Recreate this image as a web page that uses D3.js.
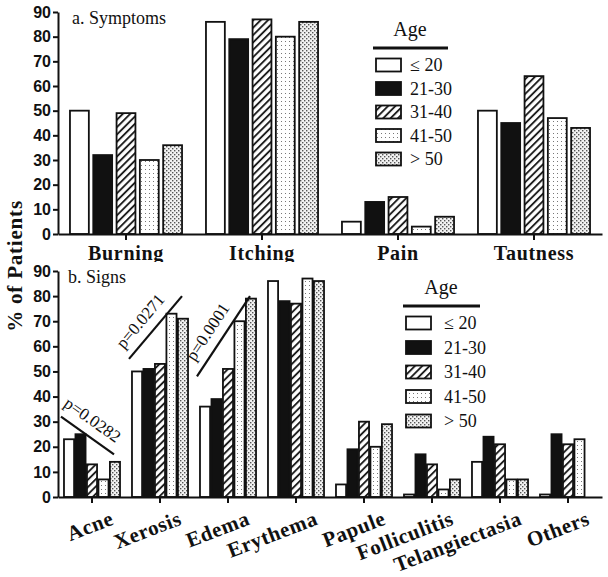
<!DOCTYPE html>
<html><head><meta charset="utf-8">
<script src="https://cdn.jsdelivr.net/npm/d3@7"></script>
<style>body{margin:0;background:#fff}svg{display:block}</style>
</head><body>
<svg id="c" width="608" height="577"></svg>
<script>
// ---- data ----
const ageGroups = ["≤ 20","21-30","31-40","41-50","> 50"];
const symptomCats = ["Burning","Itching","Pain","Tautness"];
const sympLE20  = [50,86,5,50];
const symp21_30 = [32,79,13,45];
const symp31_40 = [49,87,15,64];
const symp41_50 = [30,80,3,47];
const sympGT50  = [36,86,7,43];
const signCats = ["Acne","Xerosis","Edema","Erythema","Papule","Folliculitis","Telangiectasia","Others"];
const signLE20  = [23,50,36,86,5,1,14,1];
const sign21_30 = [25,51,39,78,19,17,24,25];
const sign31_40 = [13,53,51,77,30,13,21,21];
const sign41_50 = [7,73,70,87,20,3,7,23];
const signGT50  = [14,71,79,86,29,7,7,null];
const yTicks = [0,10,20,30,40,50,60,70,80,90];
const pCats   = ["Acne","Xerosis","Edema"];
const pFrom   = [32,55,48];
const pTo     = [17,80,80];
const pLabels = ["p=0.0282","p=0.0271","p=0.0001"];

const svg = d3.select("#c");
const SERIF = "'Liberation Serif','Times New Roman',serif";
const SANS = "'Liberation Sans',Arial,sans-serif";

// ---- patterns ----
const defs = svg.append("defs");
const hatch = defs.append("pattern").attr("id","p2").attr("patternUnits","userSpaceOnUse")
  .attr("width",5.2).attr("height",5.2).attr("patternTransform","rotate(45)");
hatch.append("rect").attr("width",5.2).attr("height",5.2).attr("fill","#fff");
hatch.append("line").attr("x1",1).attr("x2",1).attr("y1",0).attr("y2",5.2).attr("stroke","#111").attr("stroke-width",1.8);
const dots = defs.append("pattern").attr("id","p3").attr("patternUnits","userSpaceOnUse").attr("width",4).attr("height",4);
dots.append("rect").attr("width",4).attr("height",4).attr("fill","#fff");
dots.append("rect").attr("x",1).attr("y",1).attr("width",1).attr("height",1).attr("fill","#777");
const dense = defs.append("pattern").attr("id","p4").attr("patternUnits","userSpaceOnUse").attr("width",4).attr("height",4);
dense.append("rect").attr("width",4).attr("height",4).attr("fill","#f2f2f2");
dense.append("rect").attr("x",0).attr("y",0).attr("width",1.4).attr("height",1.4).attr("fill","#555");
dense.append("rect").attr("x",2).attr("y",2).attr("width",1.4).attr("height",1.4).attr("fill","#555");
const fills = ["#fff","#111","url(#p2)","url(#p3)","url(#p4)"];

function panel(cats, seriesArr, yTop, yBot, barPad, title, titleY){
  const x0 = d3.scaleBand().domain(cats).range([58,602]).paddingInner(0.176).paddingOuter(0.088);
  const x1 = d3.scaleBand().domain(d3.range(5)).range([0,x0.bandwidth()]).paddingInner(barPad);
  const y = d3.scaleLinear().domain([0,90]).range([yBot,yTop]);
  const g = svg.append("g");
  cats.forEach((c,ci)=>{
    seriesArr.forEach((s,si)=>{
      const v = s[ci];
      if(v==null) return;
      g.append("rect").attr("x",x0(c)+x1(si)).attr("width",x1.bandwidth())
        .attr("y",y(v)).attr("height",y(0)-y(v))
        .attr("fill",fills[si]).attr("stroke","#111").attr("stroke-width",1.8);
    });
  });
  const ya = g.append("g").attr("transform","translate(58,0)")
    .call(d3.axisLeft(y).tickValues(yTicks).tickSize(5).tickSizeOuter(0).tickPadding(2));
  ya.select(".domain").attr("stroke","#111").attr("stroke-width",2);
  ya.selectAll(".tick line").attr("stroke","#111").attr("stroke-width",2);
  ya.selectAll("text").attr("font-family",SANS).attr("font-weight","bold").attr("font-size",16).attr("fill","#111");
  const xa = g.append("g").attr("transform",`translate(0,${yBot})`)
    .call(d3.axisBottom(x0).tickSize(6).tickSizeOuter(0).tickFormat(""));
  xa.select(".domain").attr("stroke","#111").attr("stroke-width",2);
  xa.selectAll(".tick line").attr("stroke","#111").attr("stroke-width",2);
  g.append("text").attr("x",title[1]).attr("y",titleY).text(title[0])
    .attr("font-family",SERIF).attr("font-size",18).attr("fill","#111");
  return {x0,x1,y,g};
}

// ---- top panel ----
const topP = panel(symptomCats,[sympLE20,symp21_30,symp31_40,symp41_50,sympGT50],12,234,0.19,["a. Symptoms",72],24);
defs.append("clipPath").attr("id","clipTop").append("rect").attr("x",0).attr("y",0).attr("width",608).attr("height",262);
topP.g.append("g").attr("clip-path","url(#clipTop)").selectAll("text").data(symptomCats).join("text")
  .attr("x",d=>topP.x0(d)+topP.x0.bandwidth()/2).attr("y",260).attr("text-anchor","middle")
  .attr("font-family",SERIF).attr("font-weight","bold").attr("font-size",20).attr("letter-spacing",0.7)
  .attr("fill","#111").text(d=>d);

// ---- bottom panel ----
const botP = panel(signCats,[signLE20,sign21_30,sign31_40,sign41_50,signGT50],271,497,0.12,["b. Signs",68],283);
botP.g.selectAll("text.cl").data(signCats).join("text").attr("class","cl")
  .attr("transform",d=>`translate(${botP.x0(d)+botP.x0.bandwidth()/2+23},524) rotate(-21)`)
  .attr("text-anchor","end")
  .attr("font-family",SERIF).attr("font-weight","bold").attr("font-size",21).attr("letter-spacing",0.6)
  .attr("fill","#111").text(d=>d);

// p-value annotations
pCats.forEach((c,i)=>{
  const xa = botP.x0(c)-3, xb = botP.x0(c)+botP.x0.bandwidth()-6;
  const ya = botP.y(pFrom[i]), yb = botP.y(pTo[i]);
  botP.g.append("line").attr("x1",xa).attr("x2",xb).attr("y1",ya).attr("y2",yb)
    .attr("stroke","#111").attr("stroke-width",2.2);
  const ang = Math.atan2(yb-ya,xb-xa);
  const dx = Math.cos(ang), dy = Math.sin(ang);
  const nx = dy, ny = -dx;
  const mx = (xa+xb)/2 + nx*10 - dx*5, my = (ya+yb)/2 + ny*10 - dy*5;
  botP.g.append("text").attr("transform",`translate(${mx},${my}) rotate(${ang*180/Math.PI})`)
    .attr("text-anchor","middle").attr("font-family",SERIF).attr("font-size",17).attr("fill","#111")
    .text(pLabels[i]);
});

// ---- legends ----
function legend(cx, titleY, lineY, lineX0, lineX1, swX, rowY0, rowStep, labX){
  const lg = svg.append("g");
  lg.append("text").attr("x",cx).attr("y",titleY).attr("text-anchor","middle")
    .attr("font-family",SERIF).attr("font-size",20).attr("fill","#111").text("Age");
  lg.append("line").attr("x1",lineX0).attr("x2",lineX1).attr("y1",lineY).attr("y2",lineY)
    .attr("stroke","#111").attr("stroke-width",3);
  ageGroups.forEach((a,i)=>{
    const yy = rowY0 + i*rowStep;
    lg.append("rect").attr("x",swX).attr("y",yy-6.5).attr("width",25).attr("height",13)
      .attr("fill",fills[i]).attr("stroke","#111").attr("stroke-width",1.8);
    lg.append("text").attr("x",labX).attr("y",yy+6).attr("font-family",SERIF).attr("font-size",18)
      .attr("fill","#111").text(a);
  });
}
legend(410,36,48,373,448,376,65,23.5,410);
legend(441,294,306,403,480,406,323,24.5,444);

svg.append("text").attr("transform","translate(22,266) rotate(-90)").attr("text-anchor","middle")
  .attr("font-family",SERIF).attr("font-weight","bold").attr("font-size",21).attr("letter-spacing",0.8)
  .attr("fill","#111").text("% of Patients");
</script>
</body></html>
